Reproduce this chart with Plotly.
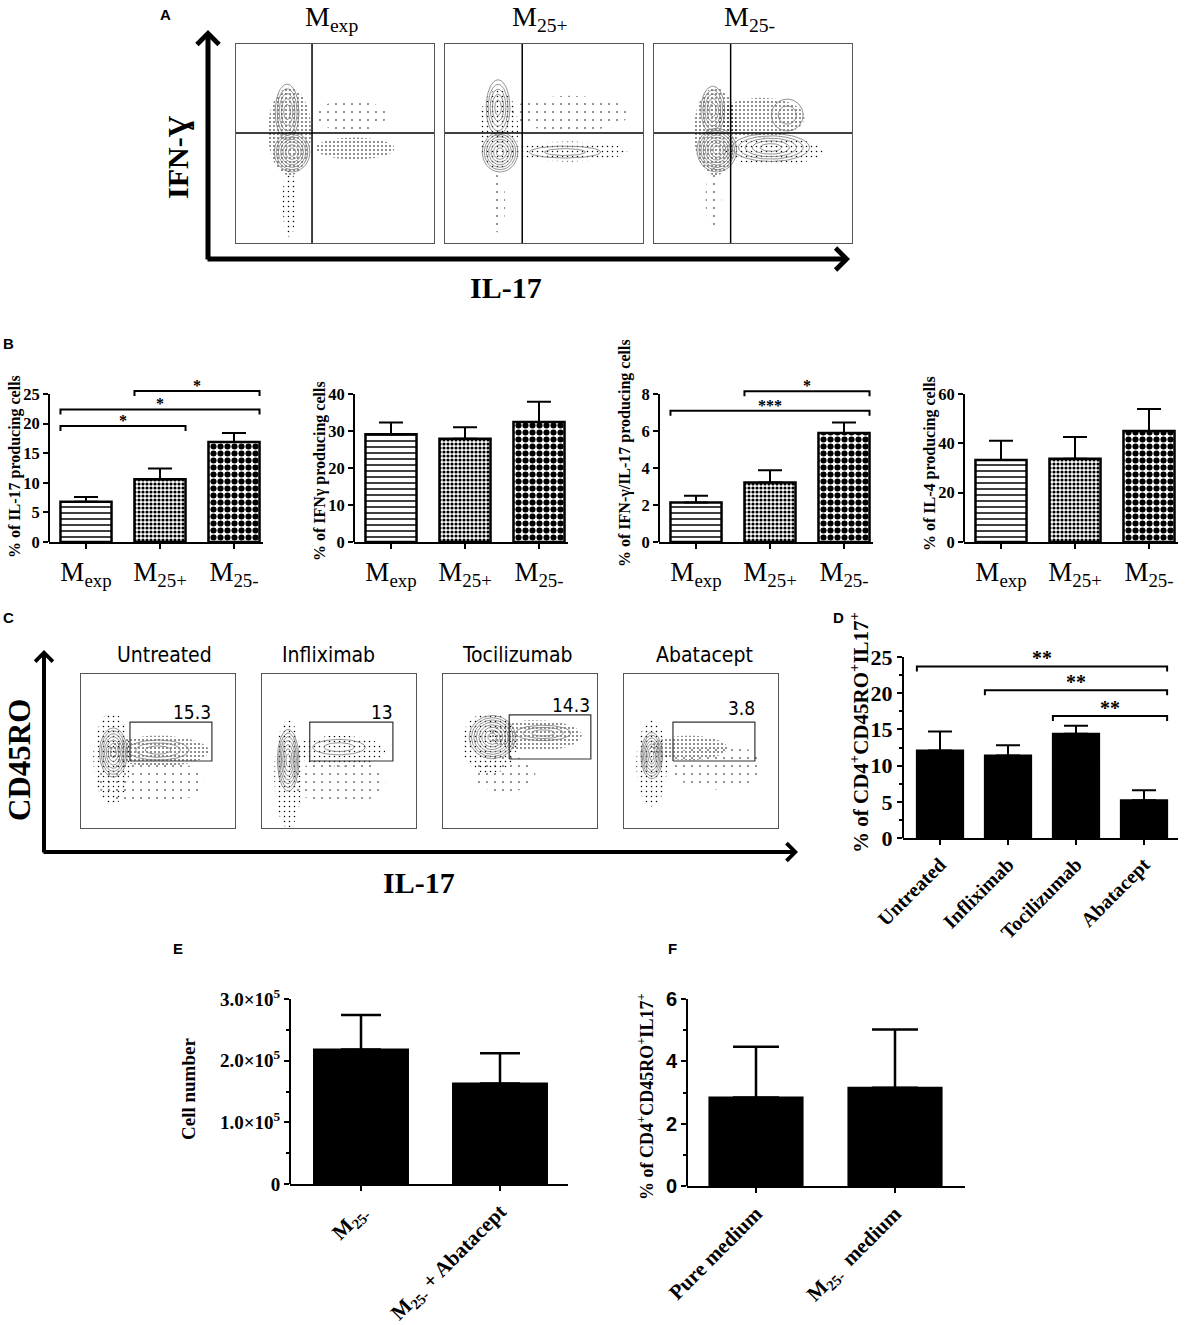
import numpy as np
import plotly.graph_objects as go

W, H = 1196, 1325
SERIF = "Liberation Serif, Times New Roman, serif"
SANS = "Liberation Sans, Arial, sans-serif"
NARROW = "Liberation Sans Narrow, Arial Narrow, DejaVu Sans Condensed, sans-serif"

# ---------------- data ----------------
# panel B
b_groups = ["M<sub>exp</sub>", "M<sub>25+</sub>", "M<sub>25-</sub>"]
b_il17 = [6.8, 10.6, 16.9]
b_il17_sem = [0.8, 1.8, 1.5]
b_ifng = [29.1, 27.9, 32.4]
b_ifng_sem = [3.2, 3.1, 5.5]
b_double = [2.14, 3.21, 5.89]
b_double_sem = [0.36, 0.67, 0.57]
b_il4 = [33.2, 33.8, 45.0]
b_il4_sem = [7.8, 8.8, 8.9]
b_il17_sig = [[0, 1, 19.6, "*"], [0, 2, 22.4, "*"], [1, 2, 25.5, "*"]]
b_double_sig = [[0, 2, 7.1, "***"], [1, 2, 8.15, "*"]]

# panel D
d_groups = ["Untreated", "Infliximab", "Tocilizumab", "Abatacept"]
d_vals = [12.1, 11.4, 14.4, 5.2]
d_sem = [2.6, 1.4, 1.1, 1.4]
d_sig = [[0, 3, 23.7, "**"], [1, 3, 20.4, "**"], [2, 3, 16.85, "**"]]

# panel E
e_groups = ["M<sub>25-</sub>", "M<sub>25-</sub> + Abatacept"]
e_vals = [2.18e5, 1.63e5]
e_sem = [0.56e5, 0.49e5]

# panel F
f_groups = ["Pure medium", "M<sub>25-</sub>  medium"]
f_vals = [2.84, 3.15]
f_sem = [1.63, 1.87]

# panel A flow plots (positions as fractions of each box)
a_titles = ["M<sub>exp</sub>", "M<sub>25+</sub>", "M<sub>25-</sub>"]
a_quad_x = [0.384, 0.39, 0.387]
a_quad_y = [0.553, 0.553, 0.553]
a_pop_box = [0, 0, 1, 1, 1, 2, 2, 2, 2]
a_pop_cx = [0.283, 0.258, 0.278, 0.268, 0.606, 0.317, 0.297, 0.673, 0.59]
a_pop_cy = [0.457, 0.658, 0.457, 0.68, 0.457, 0.467, 0.668, 0.643, 0.48]
a_pop_rx = [0.09, 0.06, 0.09, 0.06, 0.18, 0.10, 0.06, 0.08, 0.195]
a_pop_ry = [0.10, 0.14, 0.10, 0.14, 0.03, 0.11, 0.12, 0.08, 0.07]
a_pop_rings = [7, 5, 7, 5, 2, 8, 5, 2, 5]
a_cloud_box = [0, 0, 0, 0, 1, 1, 1, 1, 2, 2, 2, 2]
a_cloud_cx = [0.27, 0.6, 0.58, 0.27, 0.27, 0.63, 0.62, 0.27, 0.31, 0.54, 0.6, 0.3]
a_cloud_cy = [0.56, 0.475, 0.64, 0.2, 0.57, 0.65, 0.46, 0.2, 0.56, 0.63, 0.46, 0.22]
a_cloud_rx = [0.11, 0.2, 0.18, 0.035, 0.1, 0.3, 0.3, 0.035, 0.11, 0.22, 0.25, 0.04]
a_cloud_ry = [0.22, 0.055, 0.08, 0.17, 0.2, 0.09, 0.05, 0.15, 0.22, 0.1, 0.07, 0.16]
a_cloud_level = [3, 3, 1, 2, 2, 1, 2, 1, 3, 3, 2, 1]

# panel C flow plots
c_titles = ["Untreated", "Infliximab", "Tocilizumab", "Abatacept"]
c_gate_pct = ["15.3", "13", "14.3", "3.8"]
c_gate_x0 = [0.318, 0.31, 0.43, 0.318]
c_gate_x1 = [0.85, 0.85, 0.96, 0.85]
c_gate_y0 = [0.435, 0.435, 0.448, 0.435]
c_gate_y1 = [0.688, 0.688, 0.734, 0.688]
c_pct_x = [0.72, 0.78, 0.83, 0.766]
c_pct_y = [0.753, 0.753, 0.8, 0.78]
c_pop_box = [0, 0, 1, 1, 2, 2, 3]
c_pop_cx = [0.21, 0.5, 0.17, 0.5, 0.32, 0.65, 0.18]
c_pop_cy = [0.49, 0.506, 0.44, 0.525, 0.59, 0.617, 0.47]
c_pop_rx = [0.09, 0.2, 0.07, 0.17, 0.15, 0.18, 0.07]
c_pop_ry = [0.16, 0.065, 0.2, 0.05, 0.14, 0.05, 0.15]
c_pop_rings = [7, 3, 7, 2, 8, 3, 7]
c_cloud_box = [0, 0, 0, 1, 1, 1, 2, 2, 2, 3, 3, 3]
c_cloud_cx = [0.5, 0.2, 0.45, 0.5, 0.17, 0.5, 0.6, 0.3, 0.4, 0.42, 0.18, 0.6]
c_cloud_cy = [0.5, 0.45, 0.3, 0.5, 0.35, 0.3, 0.6, 0.55, 0.35, 0.52, 0.42, 0.4]
c_cloud_rx = [0.33, 0.12, 0.35, 0.3, 0.09, 0.3, 0.3, 0.18, 0.2, 0.25, 0.1, 0.3]
c_cloud_ry = [0.1, 0.3, 0.15, 0.1, 0.35, 0.15, 0.1, 0.2, 0.12, 0.08, 0.28, 0.15]
c_cloud_level = [3, 2, 1, 2, 2, 1, 3, 2, 1, 3, 2, 1]

# ---------------- helpers ----------------
traces, shapes, annos = [], [], []
layout = {}
LEVEL = {1: (8, 0.03), 2: (5, 0.07), 3: (4, 0.13)}
THETA = np.linspace(0, 2 * np.pi, 64)


def ax_id(n):
    return "" if n == 1 else str(n)


def text(x, y, s, size, family=SERIF, angle=0, bold=False, xanchor="center", yanchor="middle"):
    annos.append(dict(x=x / W, y=1 - y / H, xref="paper", yref="paper", text=s, showarrow=False,
                      textangle=angle, xanchor=xanchor, yanchor=yanchor,
                      font=dict(family=family, size=size, color="black",
                                weight="bold" if bold else "normal")))


def arrow(xh, yh, xt, yt, w):
    annos.append(dict(x=xh / W, y=1 - yh / H, xref="paper", yref="paper", ax=xt - xh, ay=yt - yh,
                      text="", showarrow=True, arrowhead=4, arrowsize=0.85, arrowwidth=w,
                      arrowcolor="black", standoff=0))


def bar_panel(n, cats, vals, errs, left, pitch, first, width_px, zero, top_px, top_val, view_val,
              yticks, ytext, ytickfont, xtickfont, xangle=0, minor=None, patterns=None,
              bar_w=0.68, cap=12, err_w=2, sig=None, star_size=16, drop=5):
    s = ax_id(n)
    xmin = -first / pitch
    xmax = xmin + width_px / pitch
    ppu = (zero - top_px) / top_val
    ydom = [1 - zero / H, 1 - (zero - view_val * ppu) / H]
    xdom = [left / W, (left + width_px) / W]
    xs = list(range(len(cats)))
    if patterns is None:
        marker = dict(color="black", line=dict(color="black", width=2))
    else:
        marker = dict(color="white", line=dict(color="black", width=2.5),
                      pattern=dict(shape=[p[0] for p in patterns], size=[p[1] for p in patterns],
                                   solidity=[p[2] for p in patterns], fgcolor="black",
                                   bgcolor="white"))
    traces.append(go.Bar(x=xs, y=vals, width=bar_w, marker=marker, hoverinfo="skip",
                         error_y=dict(type="data", symmetric=False, array=errs,
                                      arrayminus=[0] * len(errs), color="black",
                                      thickness=err_w, width=cap),
                         xaxis="x" + s, yaxis="y" + s))
    layout["xaxis" + s] = dict(domain=xdom, range=[xmin, xmax], anchor="y" + s, showline=True,
                               linewidth=2, linecolor="black", ticks="outside", ticklen=5,
                               tickwidth=1.5, tickcolor="black", tickvals=xs, ticktext=cats,
                               tickfont=xtickfont, tickangle=xangle, showgrid=False,
                               zeroline=False, automargin=False)
    ya = dict(domain=ydom, range=[0, view_val], anchor="x" + s, showline=False, ticks="outside",
              ticklen=5, tickwidth=1.5, tickcolor="black", tickvals=yticks, ticktext=ytext,
              tickfont=ytickfont, showgrid=False, zeroline=False, automargin=False)
    if minor is not None:
        ya["minor"] = dict(tickvals=minor, ticks="outside", ticklen=3, tickwidth=1.5,
                           tickcolor="black", showgrid=False)
    layout["yaxis" + s] = ya
    shapes.append(dict(type="line", xref="x" + s + " domain", x0=0, x1=0, yref="y" + s, y0=0,
                       y1=top_val, line=dict(color="black", width=2)))
    for a, b, h, lab in (sig or []):
        xa, xb = a - bar_w / 2, b + bar_w / 2
        d = drop / ppu
        traces.append(go.Scatter(x=[xa, xa, xb, xb], y=[h - d, h, h, h - d], mode="lines",
                                 line=dict(color="black", width=2), hoverinfo="skip",
                                 xaxis="x" + s, yaxis="y" + s))
        annos.append(dict(x=(xa + xb) / 2, y=h, xref="x" + s, yref="y" + s, text=lab,
                          showarrow=False, yanchor="bottom", yshift=-5,
                          font=dict(family=SERIF, size=star_size, color="black", weight="bold")))


def flow_panel(n, left, top, width, height, box, pops, clouds, line_col="#555"):
    s = ax_id(n)
    common = dict(range=[0, 1], showline=True, mirror=True, linecolor=line_col, linewidth=1.2,
                  showticklabels=False, ticks="", showgrid=False, zeroline=False,
                  automargin=False)
    layout["xaxis" + s] = dict(domain=[left / W, (left + width) / W], anchor="y" + s, **common)
    layout["yaxis" + s] = dict(domain=[1 - (top + height) / H, 1 - top / H], anchor="x" + s,
                               **common)
    bx, cx, cy, rx, ry, lv = clouds
    for i in range(len(bx)):
        if bx[i] != box:
            continue
        size, sol = LEVEL[lv[i]]
        traces.append(go.Scatter(x=cx[i] + rx[i] * np.cos(THETA), y=cy[i] + ry[i] * np.sin(THETA),
                                 mode="lines", line=dict(width=0), fill="toself",
                                 fillcolor="rgba(255,255,255,0)",
                                 fillpattern=dict(shape=".", size=size, solidity=sol,
                                                  fgcolor="black", bgcolor="rgba(0,0,0,0)"),
                                 hoverinfo="skip", xaxis="x" + s, yaxis="y" + s))
    bx, cx, cy, rx, ry, rings = pops
    for i in range(len(bx)):
        if bx[i] != box:
            continue
        xs, ys = [], []
        for k in range(1, rings[i] + 1):
            f = (k / rings[i]) ** 0.8
            xs += list(cx[i] + rx[i] * f * np.cos(THETA)) + [None]
            ys += list(cy[i] + ry[i] * f * np.sin(THETA)) + [None]
        traces.append(go.Scatter(x=xs, y=ys, mode="lines", line=dict(color="#777", width=0.8),
                                 hoverinfo="skip", xaxis="x" + s, yaxis="y" + s))
    return s


# ---------------- panel A ----------------
a_left = [236, 445, 654]
for i in range(3):
    s = flow_panel(8 + i, a_left[i], 44, 198, 199, i,
                   (a_pop_box, a_pop_cx, a_pop_cy, a_pop_rx, a_pop_ry, a_pop_rings),
                   (a_cloud_box, a_cloud_cx, a_cloud_cy, a_cloud_rx, a_cloud_ry, a_cloud_level))
    traces.append(go.Scatter(x=[a_quad_x[i], a_quad_x[i], None, 0, 1],
                             y=[0, 1, None, a_quad_y[i], a_quad_y[i]], mode="lines",
                             line=dict(color="black", width=1.5), hoverinfo="skip",
                             xaxis="x" + s, yaxis="y" + s))
    text(a_left[i] + 95, 18, a_titles[i], 28)
arrow(208, 30, 208, 261, 5)
arrow(850, 259, 206, 259, 5)
text(177, 157, "IFN-Ɣ", 30, angle=-90, bold=True)
text(506, 287, "IL-17", 30, bold=True)
text(165, 15, "A", 15, family=SANS, bold=True)

# ---------------- panel B ----------------
b_sets = [
    (b_il17, b_il17_sem, 25, [0, 5, 10, 15, 20, 25], b_il17_sig, "% of IL-17 producing cells", 467),
    (b_ifng, b_ifng_sem, 40, [0, 10, 20, 30, 40], None, "% of IFNγ producing cells", 471),
    (b_double, b_double_sem, 8, [0, 2, 4, 6, 8], b_double_sig,
     "% of IFN-γ/IL-17 producing cells", 453),
    (b_il4, b_il4_sem, 60, [0, 20, 40, 60], None, "% of IL-4 producing cells", 464),
]
b_patterns = [("-", 6, 0.25), (".", 4, 0.5), (".", 7, 0.6)]
for k, (vals, errs, top, ticks, sig, title, ty) in enumerate(b_sets):
    left = 49 + 305 * k
    ppu = (542 - 394) / top
    bar_panel(1 + k, b_groups, vals, errs, left, 74, 37, 214, 542, 394, top, (542 - 366) / ppu,
              ticks, [str(t) for t in ticks],
              dict(family=SERIF, size=16.5, color="black", weight="bold"),
              dict(family=SERIF, size=27, color="black"),
              patterns=b_patterns, bar_w=0.69, cap=12, sig=sig, star_size=16)
    text(15 + 305 * k, ty, title, 16, angle=-90, bold=True)
text(8, 343, "B", 15, family=SANS, bold=True)

# ---------------- panel C ----------------
c_left = [81, 262, 443, 624]
for i in range(4):
    s = flow_panel(11 + i, c_left[i], 674, 154, 154, i,
                   (c_pop_box, c_pop_cx, c_pop_cy, c_pop_rx, c_pop_ry, c_pop_rings),
                   (c_cloud_box, c_cloud_cx, c_cloud_cy, c_cloud_rx, c_cloud_ry, c_cloud_level))
    x0, x1, y0, y1 = c_gate_x0[i], c_gate_x1[i], c_gate_y0[i], c_gate_y1[i]
    traces.append(go.Scatter(x=[x0, x1, x1, x0, x0], y=[y0, y0, y1, y1, y0], mode="lines",
                             line=dict(color="#333", width=1.2), hoverinfo="skip",
                             xaxis="x" + s, yaxis="y" + s))
    annos.append(dict(x=c_pct_x[i], y=c_pct_y[i], xref="x" + s, yref="y" + s,
                      text=c_gate_pct[i], showarrow=False,
                      font=dict(family=NARROW, size=19, color="black")))
    text(c_left[i] + [83, 66, 74, 80][i], 655, c_titles[i], 21, family=NARROW)
arrow(44, 650, 44, 854, 4)
arrow(798, 852, 42, 852, 4)
text(19, 760, "CD45RO", 31, angle=-90, bold=True)
text(419, 882, "IL-17", 30, bold=True)
text(8, 618, "C", 15, family=SANS, bold=True)

# ---------------- panel D ----------------
bar_panel(5, d_groups, d_vals, d_sem, 903, 68, 37, 275, 838, 657, 25, 26.4,
          [0, 5, 10, 15, 20, 25], ["0", "5", "10", "15", "20", "25"],
          dict(family=SERIF, size=22, color="black", weight="bold"),
          dict(family=SERIF, size=20, color="black", weight="bold"), xangle=-45,
          minor=[2.5, 7.5, 12.5, 17.5, 22.5], bar_w=0.68, cap=12, sig=d_sig, star_size=20)
text(859, 733, "% of CD4<sup>+</sup>CD45RO<sup>+</sup>IL17<sup>+</sup>", 21, angle=-90, bold=True)
text(838, 618, "D", 15, family=SANS, bold=True)

# ---------------- panel E ----------------
bar_panel(6, e_groups, e_vals, e_sem, 290, 139, 71, 278, 1184, 999, 3e5, 3.06e5,
          [0, 1e5, 2e5, 3e5], ["0", "1.0×10<sup>5</sup>", "2.0×10<sup>5</sup>", "3.0×10<sup>5</sup>"],
          dict(family=SERIF, size=19, color="black", weight="bold"),
          dict(family=SERIF, size=21, color="black", weight="bold"), xangle=-45,
          minor=[0.5e5, 1.5e5, 2.5e5], bar_w=0.676, cap=20, err_w=2.5)
text(188, 1089, "Cell number", 19, angle=-90, bold=True)
text(178, 948, "E", 15, family=SANS, bold=True)

# ---------------- panel F ----------------
bar_panel(7, f_groups, f_vals, f_sem, 687, 139, 69, 278, 1186, 999, 6, 6.12,
          [0, 2, 4, 6], ["0", "2", "4", "6"],
          dict(family=SANS, size=20, color="black", weight="bold"),
          dict(family=SERIF, size=21, color="black", weight="bold"), xangle=-45,
          minor=[1, 3, 5], bar_w=0.67, cap=23, err_w=2.5)
text(645, 1097, "% of CD4<sup>+</sup>CD45RO<sup>+</sup>IL17<sup>+</sup>", 18, angle=-90,
     bold=True)
text(672, 948, "F", 15, family=SANS, bold=True)

fig = go.Figure(data=traces)
fig.update_layout(width=W, height=H, margin=dict(l=0, r=0, t=0, b=0, autoexpand=False),
                  autosize=False, template="none",
                  paper_bgcolor="white", plot_bgcolor="white", showlegend=False,
                  font=dict(family=SERIF, color="black"), shapes=shapes, annotations=annos,
                  **layout)
fig.write_html("out.html", config={"displayModeBar": False},
               post_script="document.body.style.margin='0';")
